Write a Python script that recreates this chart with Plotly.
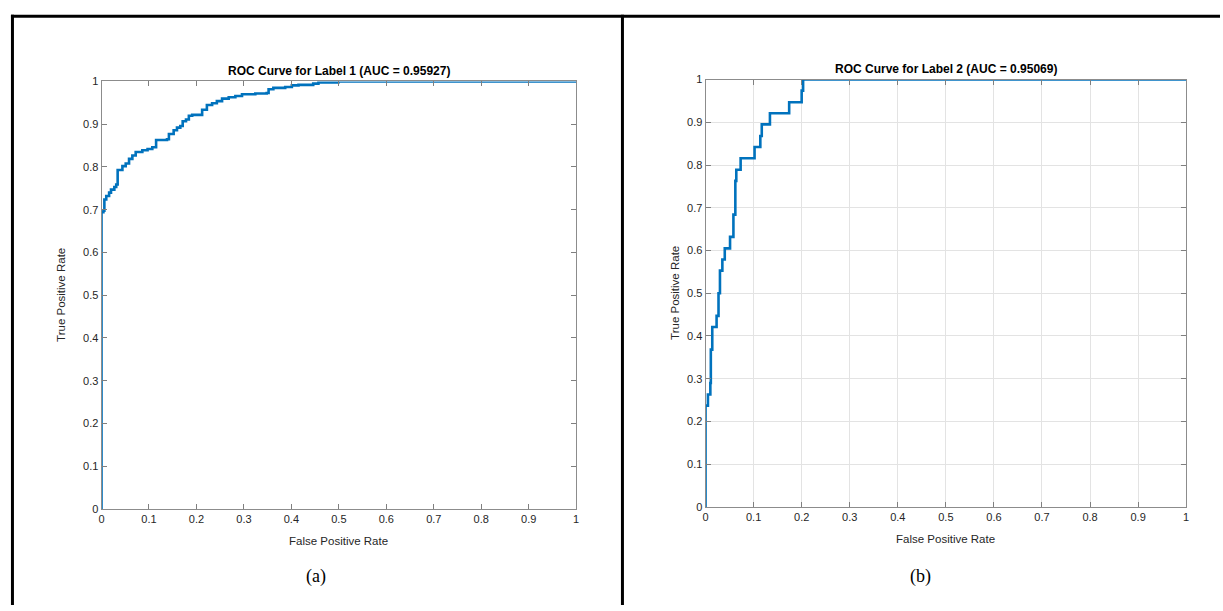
import plotly.graph_objects as go

# ROC curve 1 (corner points, horizontal-then-vertical steps)
fpr1 = [0, 0, 0.004, 0.006, 0.010, 0.016, 0.020, 0.027, 0.031, 0.034, 0.044, 0.051, 0.058, 0.065,
        0.072, 0.086, 0.097, 0.107, 0.115, 0.138, 0.142, 0.152, 0.159, 0.166, 0.171, 0.178,
        0.184, 0.191, 0.212, 0.222, 0.233, 0.243, 0.254, 0.268, 0.282, 0.296, 0.324, 0.348,
        0.352, 0.362, 0.387, 0.401, 0.415, 0.446, 0.457, 0.499, 1.0]
tpr1 = [0, 0.694, 0.698, 0.724, 0.732, 0.740, 0.747, 0.753, 0.759, 0.793, 0.802, 0.808, 0.819, 0.827,
        0.835, 0.839, 0.842, 0.846, 0.863, 0.865, 0.877, 0.886, 0.892, 0.896, 0.907, 0.911,
        0.920, 0.922, 0.934, 0.945, 0.949, 0.954, 0.960, 0.963, 0.966, 0.970, 0.972, 0.973,
        0.982, 0.985, 0.987, 0.991, 0.992, 0.995, 0.998, 1.0, 1.0]

# ROC curve 2
fpr2 = [0, 0, 0.005, 0.010, 0.011, 0.014, 0.023, 0.027, 0.030, 0.035, 0.040, 0.051, 0.058, 0.062,
        0.064, 0.073, 0.102, 0.114, 0.117, 0.134, 0.174, 0.200, 0.203, 1.0]
tpr2 = [0, 0.237, 0.263, 0.290, 0.368, 0.421, 0.447, 0.500, 0.553, 0.579, 0.605, 0.632, 0.684, 0.763,
        0.789, 0.816, 0.842, 0.868, 0.895, 0.921, 0.947, 0.974, 1.0, 1.0]

titles = ["ROC Curve for Label 1 (AUC = 0.95927)", "ROC Curve for Label 2 (AUC = 0.95069)"]
captions = ["(a)", "(b)"]
tick_vals = [0, 0.1, 0.2, 0.3, 0.4, 0.5, 0.6, 0.7, 0.8, 0.9, 1]
tick_text = ["0", "0.1", "0.2", "0.3", "0.4", "0.5", "0.6", "0.7", "0.8", "0.9", "1"]

W, H = 1223, 611
BLUE = "#0072BD"

def px(x):
    return x / W

def py(y):
    return (H - y) / H

fig = go.Figure()
fig.add_trace(go.Scatter(x=fpr1, y=tpr1, mode="lines", line=dict(color=BLUE, width=2.6, shape="hv"),
                         xaxis="x", yaxis="y", showlegend=False, hoverinfo="skip"))
fig.add_trace(go.Scatter(x=fpr2, y=tpr2, mode="lines", line=dict(color=BLUE, width=2.6, shape="hv"),
                         xaxis="x2", yaxis="y2", showlegend=False, hoverinfo="skip"))

tickfont = dict(family="Liberation Sans, Arial, sans-serif", size=11, color="#262626")

def axis(domain, anchor, grid):
    return dict(domain=domain, anchor=anchor, range=[0, 1], tickvals=tick_vals, ticktext=tick_text,
                ticks="inside", ticklen=5, tickcolor="#7f7f7f", showline=True, linecolor="#8c8c8c",
                linewidth=1, mirror="ticks", showgrid=grid, gridcolor="#e3e3e3", gridwidth=1,
                zeroline=False, tickfont=tickfont, fixedrange=True)

fig.update_layout(
    width=W, height=H, margin=dict(l=0, r=0, t=0, b=0),
    paper_bgcolor="white", plot_bgcolor="white",
    xaxis=axis([px(99), px(576)], "y", False),
    yaxis=axis([py(513), py(77)], "x", False),
    xaxis2=axis([px(706), px(1189)], "y2", True),
    yaxis2=axis([py(511), py(75)], "x2", True),
)

label_font = dict(family="Liberation Sans, Arial, sans-serif", size=11.5, color="#262626")
ann = []
centers = [(99 + 576) / 2, (706 + 1189) / 2]
ytops = [77, 75]
ybots = [513, 511]
ylabx = [58, 676]
capx = [315, 922]
for i in range(2):
    ann.append(dict(x=px(centers[i]), y=py(ytops[i] - 2), xref="paper", yref="paper", text="<b>" + titles[i] + "</b>",
                    showarrow=False, xanchor="center", yanchor="bottom",
                    font=dict(family="Liberation Sans, Arial, sans-serif", size=12, color="black")))
    ann.append(dict(x=px(centers[i]), y=py(ybots[i] + 33), xref="paper", yref="paper", text="False Positive Rate",
                    showarrow=False, xanchor="center", yanchor="middle", font=label_font))
    ann.append(dict(x=px(ylabx[i]), y=py((ytops[i] + ybots[i]) / 2), xref="paper", yref="paper",
                    text="True Positive Rate", textangle=-90, showarrow=False,
                    xanchor="center", yanchor="middle", font=label_font))
    ann.append(dict(x=px(capx[i]), y=py(582), xref="paper", yref="paper", text=captions[i],
                    showarrow=False, xanchor="center", yanchor="middle",
                    font=dict(family="Liberation Serif, Times New Roman, serif", size=18, color="black")))
fig.update_layout(annotations=ann)

# table borders
border = dict(color="black", width=3)
fig.add_shape(type="line", xref="paper", yref="paper", x0=px(8), x1=1, y0=py(10.5), y1=py(10.5), line=border)
fig.add_shape(type="line", xref="paper", yref="paper", x0=px(9.5), x1=px(9.5), y0=py(9), y1=0, line=border)
fig.add_shape(type="line", xref="paper", yref="paper", x0=px(622.5), x1=px(622.5), y0=py(9), y1=0, line=border)

fig.write_html("out.html", config={"displayModeBar": False, "staticPlot": True},
               post_script="document.body.style.margin='0';document.body.style.overflow='hidden';")
